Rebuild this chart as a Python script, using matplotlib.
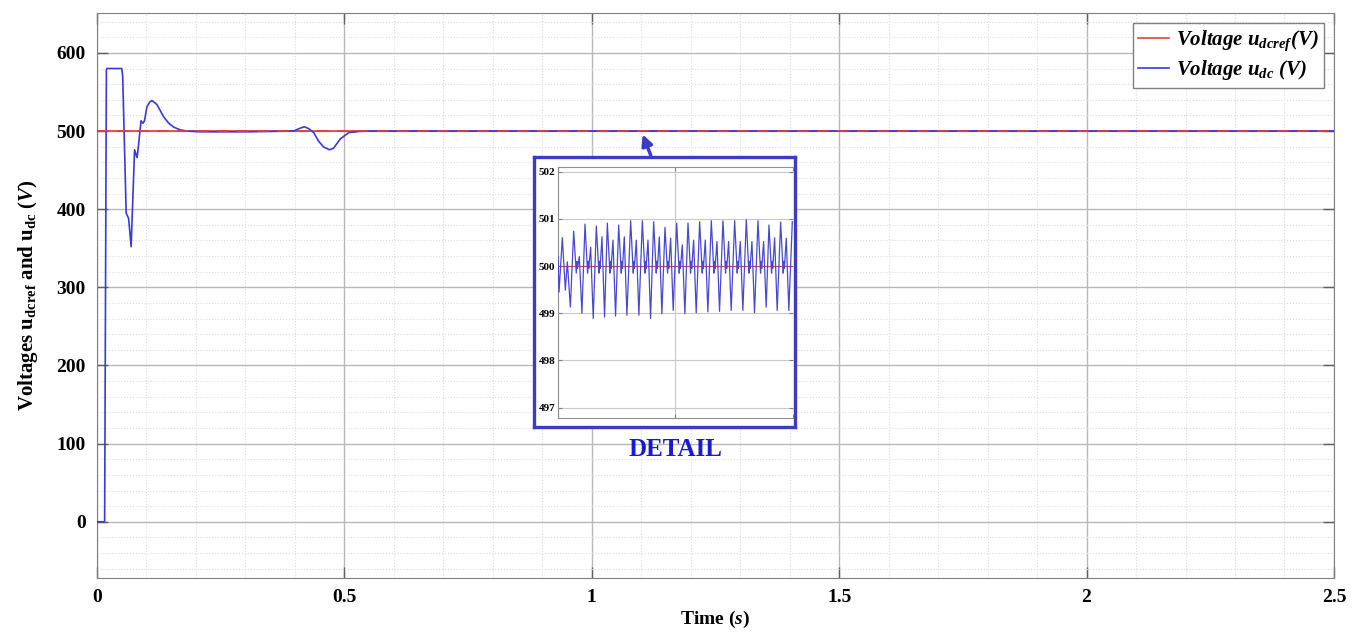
import numpy as np
import matplotlib
matplotlib.use('Agg')
import matplotlib.pyplot as plt
from matplotlib.lines import Line2D
from matplotlib.ticker import MultipleLocator

plt.rcParams['font.family'] = ['Liberation Serif', 'DejaVu Serif']
plt.rcParams['mathtext.fontset'] = 'custom'
plt.rcParams['mathtext.rm'] = 'Liberation Serif'
plt.rcParams['mathtext.it'] = 'Liberation Serif:italic'
plt.rcParams['mathtext.bf'] = 'Liberation Serif:bold'
plt.rcParams['mathtext.bfit'] = 'Liberation Serif:italic:bold'

# reference voltage
t_ref = [0.0, 2.5]
v_ref = [500.0, 500.0]

# measured dc voltage (main view)
t_dc = [0.0, 0.0155, 0.019, 0.02, 0.05, 0.052, 0.056, 0.059, 0.064, 0.069,
        0.076, 0.081, 0.083, 0.089, 0.093, 0.096, 0.101, 0.1065, 0.111, 0.121,
        0.135, 0.145, 0.155, 0.168, 0.182, 0.209, 0.30, 0.3976, 0.408, 0.419,
        0.428, 0.438, 0.448, 0.458, 0.470, 0.478, 0.492, 0.509, 0.53, 0.55, 2.5]
v_dc = [0, 0, 578, 580, 580, 570, 470, 395, 388, 352,
        476, 466, 476, 513, 510, 513, 531, 537, 539, 534,
        518, 510, 505, 501.5, 500, 499, 499, 500, 503, 505.5,
        503, 498, 487, 479.6, 476, 478, 490, 498, 499.5, 500, 500]

# detail window (1.0 .. 1.1 s)
t_head = [1.0, 1.00043, 1.00184, 1.00312, 1.00397, 1.00525]
v_head = [500.2, 499.45, 500.6, 499.49, 500.09, 499.13]
t_peak = [1.00667, 1.01149, 1.01631, 1.02099, 1.02582, 1.03092, 1.03589,
          1.04071, 1.04553, 1.05050, 1.05532, 1.06028, 1.06525, 1.07021,
          1.07518, 1.08014, 1.08511, 1.08979, 1.09475, 1.09972]
v_peak = [500.74, 500.89, 500.85, 500.91, 500.87, 500.96, 500.96, 500.94,
          500.82, 500.91, 500.91, 500.94, 500.96, 500.96, 500.96, 500.98,
          500.96, 500.87, 500.93, 500.94]
v_sec = [500.20, 500.40, 500.62, 500.55, 500.62, 500.55, 500.55, 500.62,
         500.59, 500.45, 500.55, 500.55, 500.52, 500.52, 500.52, 500.52,
         500.52, 500.60, 500.59]
v_trough = [499.0, 498.89, 498.92, 498.94, 498.96, 498.96, 498.89, 498.99,
            499.06, 498.99, 499.01, 499.03, 499.04, 499.06, 499.06, 499.01,
            499.13, 499.06, 499.06]

red = '#e04040'
blue = '#3a3ad8'
boxblue = '#3b3bc8'

# build polyline of the detail waveform
td, vd = list(t_head), list(v_head)
for k in range(len(t_peak)):
    tp = t_peak[k]
    td.append(tp); vd.append(v_peak[k])
    if k < len(v_sec):
        td += [tp + 0.0011, tp + 0.00135, tp + 0.0016, tp + 0.0024, tp + 0.0035]
        vd += [499.85, 500.1, 499.95, v_sec[k], v_trough[k]]

fig = plt.figure(figsize=(13.62, 6.32), dpi=100)
ax = fig.add_axes([0.0712, 0.0854, 0.9082, 0.894])

ax.plot(t_ref, v_ref, color=red, lw=1.2, zorder=2)
ax.plot(t_dc, v_dc, color=blue, lw=1.2, zorder=3)
ax.plot(t_ref, v_ref, color=red, lw=1.2, zorder=4, dashes=(7, 5))

ax.set_xlim(0, 2.5)
ax.set_ylim(-72, 651)
ax.xaxis.set_major_locator(MultipleLocator(0.5))
ax.xaxis.set_minor_locator(MultipleLocator(0.1))
ax.yaxis.set_major_locator(MultipleLocator(100))
ax.yaxis.set_minor_locator(MultipleLocator(20))
ax.set_xticks([0, 0.5, 1, 1.5, 2, 2.5])
ax.set_xticklabels(['0', '0.5', '1', '1.5', '2', '2.5'])
ax.grid(which='major', color='#b8b8b8', lw=1.0)
ax.grid(which='minor', color='#dcdcdc', lw=0.8, ls=':')
ax.tick_params(which='major', direction='in', length=8, width=1, color='#606060',
               top=True, right=True, labelsize=14, pad=8)
ax.tick_params(which='minor', length=0)
for lab in ax.get_xticklabels() + ax.get_yticklabels():
    lab.set_fontweight('bold')
for s in ax.spines.values():
    s.set_color('#808080')

ax.set_xlabel(r'Time ($\mathbfit{s}$)', fontsize=14, fontweight='bold', labelpad=2)
ax.set_ylabel(r'Voltages u$_{\mathbf{dcref}}$ and u$_{\mathbf{dc}}$ ($\mathbfit{V}$)',
              fontsize=15, fontweight='bold', labelpad=12)

handles = [Line2D([], [], color=red, lw=1.2), Line2D([], [], color=blue, lw=1.2)]
leg = ax.legend(handles,
                [r'$\mathbfit{Voltage\ u}_{\mathbfit{dcref}}\mathbfit{(V)}$',
                 r'$\mathbfit{Voltage\ u}_{\mathbfit{dc}}\mathbfit{\ (V)}$'],
                loc='upper right', fontsize=15, handlelength=1.5, handletextpad=0.3,
                borderpad=0.25, labelspacing=0.25, fancybox=False, framealpha=1,
                borderaxespad=0.5)
leg.get_frame().set_edgecolor('#808080')

ax.annotate('', xy=(1.101, 499), xytext=(1.121, 466),
            arrowprops=dict(arrowstyle='-|>', color=boxblue, lw=2.5,
                            mutation_scale=16), zorder=6)

# detail box
box = fig.add_axes([0.3921, 0.3244, 0.1916, 0.4272])
box.set_xticks([]); box.set_yticks([])
box.set_facecolor('white')
for s in box.spines.values():
    s.set_color(boxblue)
    s.set_linewidth(2.4)

ins = fig.add_axes([0.4097, 0.3386, 0.1725, 0.3972])
ins.plot([1.0, 1.1], [500, 500], color=red, lw=0.8, zorder=2)
ins.plot(td, vd, color='#4848d0', lw=0.9, zorder=3)
ins.set_xlim(1.0, 1.1)
ins.set_ylim(496.78, 502.1)
ins.set_xticks([1.0, 1.05, 1.1])
ins.set_xticklabels([])
ins.set_yticks([497, 498, 499, 500, 501, 502])
ins.grid(color='#c8c8c8', lw=0.8)
ins.tick_params(direction='in', length=3, labelsize=8, pad=2, color='#808080',
                top=True, right=True)
for lab in ins.get_yticklabels():
    lab.set_fontweight('bold')
for s in ins.spines.values():
    s.set_color('#909090')
    s.set_linewidth(0.8)
ins.spines['right'].set_visible(False)

fig.text(0.4956, 0.2880, 'DETAIL', color='#1818d8', fontsize=18,
         fontweight='bold', ha='center', va='center')

fig.savefig('out.png', dpi=100, facecolor='white')
